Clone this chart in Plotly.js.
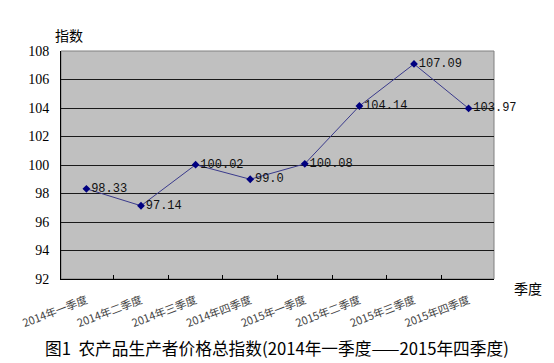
<!DOCTYPE html>
<html>
<head>
<meta charset="utf-8">
<script src="https://cdn.plot.ly/plotly-3.0.1.min.js"></script>
<style>
  html, body { margin: 0; padding: 0; background: #ffffff; }
  #chart { width: 554px; height: 363px; }
</style>
</head>
<body>
<div id="chart"></div>
<script>
// Quarterly producer price index for agricultural products
const quarters = [
  '2014年一季度', '2014年二季度', '2014年三季度', '2014年四季度',
  '2015年一季度', '2015年二季度', '2015年三季度', '2015年四季度'
];
const indexValues = [98.33, 97.14, 100.02, 99.0, 100.08, 104.14, 107.09, 103.97];
const valueLabels = ['98.33', '97.14', '100.02', '99.0', '100.08', '104.14', '107.09', '103.97'];
const yTicks = [92, 94, 96, 98, 100, 102, 104, 106, 108];

const cjk = '"Noto Sans CJK SC", "Noto Sans", sans-serif';

const trace = {
  type: 'scatter',
  mode: 'lines+markers+text',
  x: quarters,
  y: indexValues,
  text: valueLabels,
  textposition: 'middle right',
  textfont: { family: '"Liberation Mono", "DejaVu Sans Mono", monospace', size: 12, color: '#111111' },
  line: { color: '#3a3a8c', width: 1 },
  marker: { symbol: 'diamond', size: 6, color: '#000080' },
  cliponaxis: false,
  hoverinfo: 'x+y'
};

const layout = {
  width: 554,
  height: 363,
  margin: { l: 61, r: 60, t: 51, b: 84 },
  paper_bgcolor: '#ffffff',
  plot_bgcolor: '#c0c0c0',
  showlegend: false,
  xaxis: {
    type: 'category',
    tickson: 'boundaries',
    ticks: 'inside',
    ticklen: 4,
    tickcolor: '#000000',
    tickangle: -21,
    ticklabelstandoff: 10,
    tickfont: { family: cjk, size: 11, color: '#444444' },
    showgrid: false,
    showline: true,
    linecolor: '#000000',
    linewidth: 1,
    zeroline: false,
    fixedrange: true
  },
  yaxis: {
    range: [92, 108],
    tickvals: yTicks,
    ticktext: yTicks.map(String),
    ticks: '',
    tickfont: { family: '"Liberation Serif", serif', size: 14, color: '#000000' },
    ticklabelstandoff: 8,
    showgrid: true,
    gridcolor: '#1a1a1a',
    gridwidth: 1,
    showline: true,
    linecolor: '#000000',
    linewidth: 1,
    zeroline: false,
    fixedrange: true
  },
  shapes: [
    {
      type: 'rect', xref: 'paper', yref: 'paper',
      x0: 0, x1: 1, y0: 0, y1: 1,
      line: { color: '#808080', width: 1 },
      layer: 'below'
    }
  ],
  annotations: [
    {
      text: '指数', xref: 'paper', yref: 'paper',
      x: 0.018, y: 1.0, xanchor: 'center', yanchor: 'bottom', yshift: 4,
      showarrow: false,
      font: { family: cjk, size: 14, color: '#000000' }
    },
    {
      text: '季度', xref: 'paper', yref: 'paper',
      x: 1.0, y: 0, xanchor: 'left', yanchor: 'top', xshift: 18, yshift: 3,
      showarrow: false,
      font: { family: cjk, size: 14, color: '#000000' }
    },
    {
      text: '图1  农产品生产者价格总指数(2014年一季度——2015年四季度)',
      xref: 'paper', yref: 'paper',
      x: 0.498, y: 0, xanchor: 'center', yanchor: 'top', yshift: -55,
      showarrow: false,
      font: { family: cjk, size: 16.7, color: '#000000' }
    }
  ]
};

Plotly.newPlot('chart', [trace], layout, { displayModeBar: false, staticPlot: true });
</script>
</body>
</html>
